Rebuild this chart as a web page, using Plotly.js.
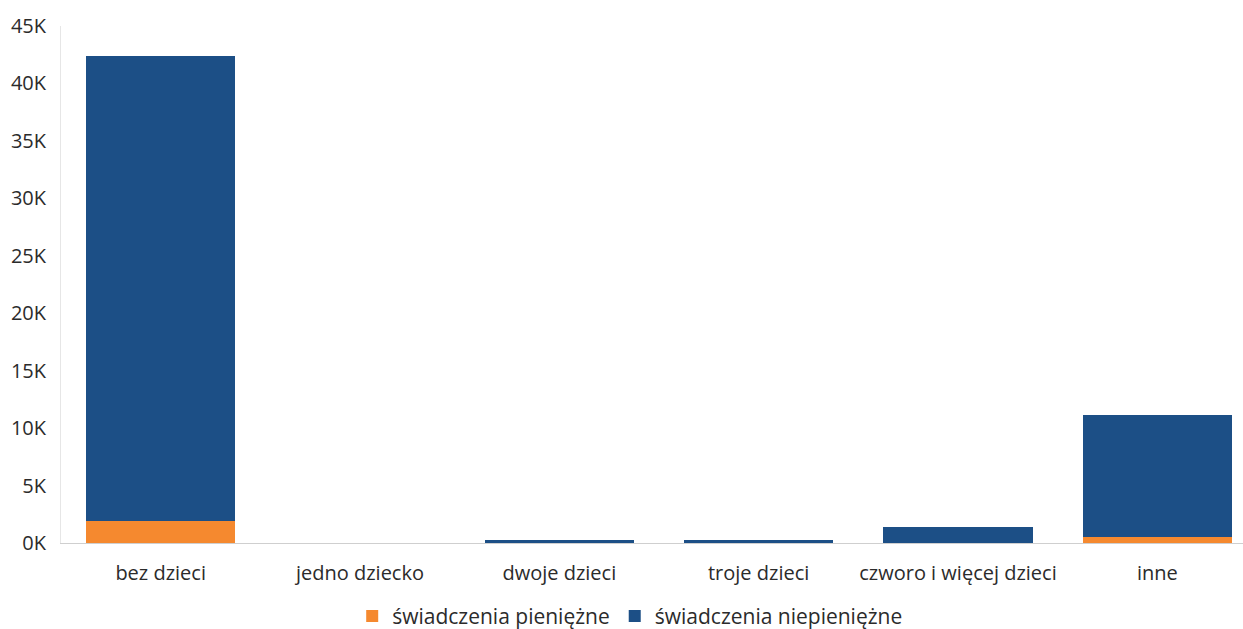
<!DOCTYPE html>
<html>
<head>
<meta charset="utf-8">
<script src="https://cdn.plot.ly/plotly-3.0.1.min.js"></script>
<style>html,body{margin:0;padding:0;background:#fff;}#chart{width:1243px;height:629px;}</style>
</head>
<body>
<div id="chart"></div>
<script>
const categories = ["bez dzieci", "jedno dziecko", "dwoje dzieci", "troje dzieci", "czworo i więcej dzieci", "inne"];
const pieniezne = [1900, 0, 0, 0, 0, 500];
const niepieniezne = [40500, 20, 300, 280, 1350, 10600];
const yTickVals = [0, 5000, 10000, 15000, 20000, 25000, 30000, 35000, 40000, 45000];
const yTickText = ["0K", "5K", "10K", "15K", "20K", "25K", "30K", "35K", "40K", "45K"];

const font = {family: "Open Sans, Noto Sans, sans-serif", size: 20, color: "#2b2b2b"};
const legendFont = {family: "Open Sans, Noto Sans, sans-serif", size: 21, color: "#2b2b2b"};

const data = [
  {type: "bar", name: "świadczenia pieniężne", x: categories, y: pieniezne, marker: {color: "#f5892f"}},
  {type: "bar", name: "świadczenia niepieniężne", x: categories, y: niepieniezne, marker: {color: "#1c4f86"}}
];

const layout = {
  width: 1243, height: 629,
  barmode: "stack",
  bargap: 0.25,
  paper_bgcolor: "#fff", plot_bgcolor: "#fff",
  font: font,
  margin: {l: 61, r: 0, t: 26, b: 86},
  showlegend: true,
  legend: {orientation: "h", x: 0.507, xanchor: "center", xref: "container", y: 0.02, yanchor: "middle", yref: "container", font: legendFont, traceorder: "normal"},
  xaxis: {
    range: [-0.5, 5.43],
    showline: true, linecolor: "#cfcfcf", linewidth: 1,
    showgrid: false, zeroline: false, ticks: "",
    tickfont: font, ticklabelstandoff: 12
  },
  yaxis: {
    range: [0, 45000],
    tickvals: yTickVals, ticktext: yTickText,
    showline: true, linecolor: "#e6e6e6", linewidth: 1,
    showgrid: false, zeroline: false, ticks: "",
    tickfont: font, ticklabelstandoff: 10
  }
};

Plotly.newPlot("chart", data, layout, {displayModeBar: false, staticPlot: true});
</script>
</body>
</html>
